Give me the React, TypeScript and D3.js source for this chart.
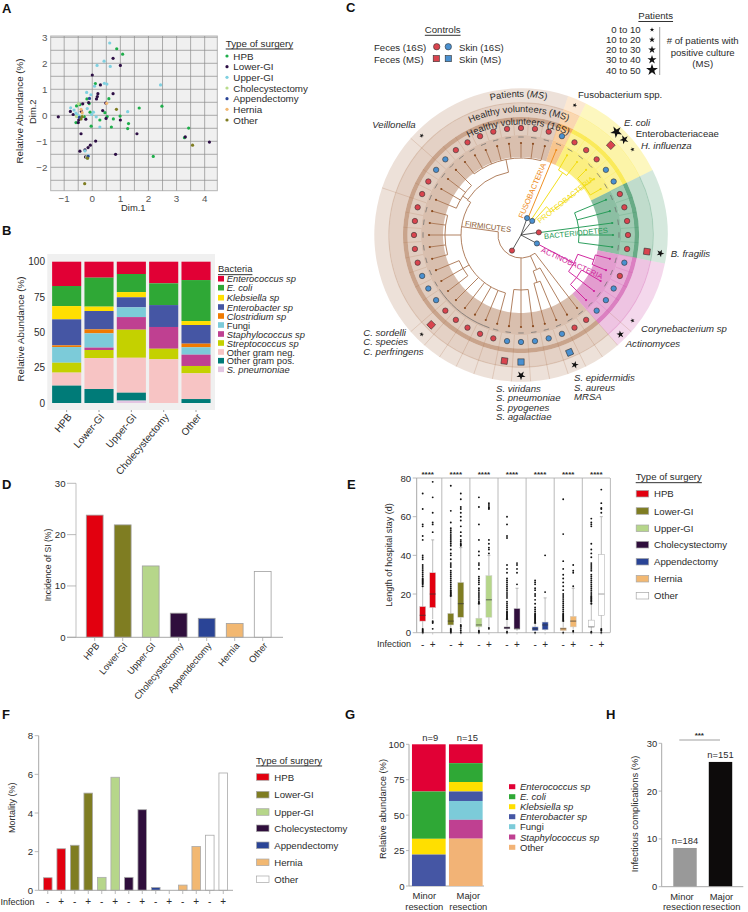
import React from "react";
import * as d3 from "d3";

const FONT = "'Liberation Sans', Arial, sans-serif";
const TXT = "#2b2b2b";
const AXIS = "#a8a8a8";

// ---- shared categories
const surgeryTypes = ["HPB", "Lower-GI", "Upper-GI", "Cholecystectomy", "Appendectomy", "Hernia", "Other"];
const surgeryColors = ["#e2000f", "#7f7d22", "#b6d68a", "#2f0e3c", "#2a4496", "#f2b872", "#ffffff"];

// ---- A: scatter, one [dim1, dim2] list per surgery type
const scatterTypes = ["HPB", "Lower-GI", "Upper-GI", "Cholecystectomy", "Appendectomy", "Hernia", "Other"];
const scatterColors = ["#1fae4b", "#2d0f45", "#7fd0e0", "#b9dc8c", "#2a4496", "#f2b872", "#7f7d22"];
const hpbPoints = [[0.87,2.56],[1.08,2.35],[0.11,1.22],[-0.19,0.63],[0.59,0.64],[-0.11,0.45],[-0.56,0.36],[-0.44,0.41],[1.67,0.28],[2.48,0.35],[-0.08,0.12],[0.45,0.1],[0.53,-0.05],[0.27,-0.18],[0.75,-0.14],[0.99,-0.03],[1.29,-0.32],[1.26,-0.51],[0.68,-0.45],[-0.04,-0.42],[-0.58,-0.28],[3.43,-0.49],[3.28,-0.86],[2.17,-1.58],[-0.29,-0.05],[-0.17,-1.64]];
const lowerPoints = [[0.74,2.19],[1,1.92],[0,1.55],[0.29,1.17],[0.2,0.83],[0.74,0.83],[0.18,0.72],[0.15,0.63],[-0.13,0.49],[0.48,0.47],[-0.34,0.44],[0.37,0.18],[-1.21,-0.06],[-0.78,0.15],[-0.68,0.03],[-0.39,0.15],[-0.48,-0.18],[-0.23,-0.15],[0.49,-0.12],[1,-0.18],[-0.5,-0.28],[-0.4,-0.71],[1.59,-0.71],[3.31,-0.83],[4.17,-1.03],[0.12,-0.99],[-0.07,-1.15],[-0.15,-1.24],[-0.44,-1.38],[-0.26,-1.33],[0.83,-1.5],[-0.24,-1.6]];
const upperPoints = [[0.62,2.78],[0.42,2.08],[0.17,1.92],[0.64,1.88],[0.43,1.23],[0.52,1.2],[0.08,1.12],[2.43,1.17],[-0.2,0.88],[-0.05,0.79],[-0.18,0.26],[0.04,0.12],[-0.77,0.29],[-0.02,0.03],[0.14,-0.06],[1.26,0.14],[0.27,-0.45],[-0.58,0.08],[-0.53,0.01],[-0.46,-0.03],[-0.65,0.2],[-0.26,-1.37],[-0.14,-1.55]];
const cholePoints = [[-0.49,0.44],[-0.56,-0.05],[-0.35,-0.02],[-0.2,-1.6]];
const appendPoints = [[-0.1,0.65],[-0.46,-0.08],[-0.15,-1.58]];
const herniaPoints = [[-0.4,0.23],[0.51,0.46],[-0.36,0.1]];
const otherPoints = [[0.86,0.23],[3.57,-1.15],[-0.27,-2.63],[-0.17,-1.65],[-0.4,-0.14],[-0.36,-0.05]];
const scatterSeries = [hpbPoints, lowerPoints, upperPoints, cholePoints, appendPoints, herniaPoints, otherPoints];
const dimXTicks = [-1, 0, 1, 2, 3, 4];
const dimYTicks = [-2, -1, 0, 1, 2, 3];

// ---- B: stacked bars
const bacteria = ["Enterococcus sp", "E. coli", "Klebsiella sp", "Enterobacter sp", "Clostridium sp", "Fungi", "Staphylococcus sp", "Streptococcus sp", "Other gram neg.", "Other gram pos.", "S. pneumoniae"];
const bacteriaItalic = [true, true, true, true, true, false, true, true, false, false, true];
const bacteriaColors = ["#e10035", "#2fa836", "#ffdf00", "#4556a4", "#f07a00", "#7ccbd9", "#bf4091", "#c4d100", "#f7c4c4", "#007b78", "#e3c6e2"];
const stackGroups = ["HPB", "Lower-GI", "Upper-GI", "Cholecystectomy", "Other"];
const hpbStack = [17.2, 14.2, 9.4, 18.4, 1.2, 11.1, 0, 7, 9.2, 12.3, 0];
const lowerStack = [11.3, 20.5, 3.1, 13, 2.8, 10.1, 1.7, 5.7, 21.9, 9.9, 0];
const upperStack = [8.7, 12.8, 3.7, 7.1, 0, 6.9, 8.9, 19.9, 24.7, 5.6, 1.7];
const choleStack = [15.3, 15.4, 0, 15.5, 0, 0, 15.4, 7.5, 30.9, 0, 0];
const otherStack = [13, 29, 2.8, 13.2, 2.6, 5.2, 8, 5.2, 18.2, 2.8, 0];
const stackValues = [hpbStack, lowerStack, upperStack, choleStack, otherStack];
const abundanceTicks = [0, 25, 50, 75, 100];

// ---- C: circular tree. 48 leaves, numbered clockwise from the top
const leafControls = "RRRBRRRBBRRRRRBRBBBRRBBBBBRRRRRBBBRRRRRRRBBRRRRR".slice(0, 48).split("");
const phyla = ["Firmicutes", "Fusobacteria", "Proteobacteria", "Bacteroidetes", "Actinobacteria"];
const phylumFirstLeaf = [19, 3, 4, 9, 14];
const phylumLastLeaf = [50, 3, 8, 13, 18];
const phylumColors = ["#a5673f", "#f08c1e", "#f8e21a", "#2e8b57", "#c83ca0"];
const phylumLines = ["#ad7a58", "#ee8a1a", "#f2dc10", "#239a55", "#cf1f9b"];
const phylumDotAngle = [210, 19.7, 38.5, 81.6, 118];
const phylumDotColor = ["#d9444e", "#4a90d0", "#4a90d0", "#d9444e", "#4a90d0"];
const firmicutesTree = { r: 23, at: 210, c: [19, { r: 38, c: [20, { r: 50, c: [21, 22] }] }, { r: 55, c: [23, 24, 25] }, { r: 60, at: 278, c: [26, 27, 28, 29, 30, { r: 67, c: [31, 32, 33] }, { r: 76, c: [34, 35, 36, 37, 38] }, { r: 64, at: 303, c: [{ r: 70, c: [39, 40, 41, 42] }, { r: 77, c: [43, 44, 45, 46, 47, 48, 49, 50] }] }] }] };
const fusoTree = { r: 18, at: 19.7, c: [3] };
const proteoTree = { r: 18, at: 38.5, c: [{ r: 75, c: [4, 5] }, { r: 38, at: 42, c: [{ r: 80, c: [6, 7, 8] }] }] };
const bacteroTree = { r: 18, at: 81.6, c: [{ r: 58, c: [9, 10, 11, 12, 13] }] };
const actinoTree = { r: 18, at: 118, c: [{ r: 60, c: [{ r: 77, c: [14, 15] }, { r: 70, c: [16, 17, 18] }] }] };
const phylumTrees = [firmicutesTree, fusoTree, proteoTree, bacteroTree, actinoTree];
const msLeaves = [6, 13, 21, 24, 25, 30];
const msControls = ["R", "R", "B", "B", "R", "R"];
const starLeaves = [3, 5.7, 6.3, 7, 13, 17, 18, 21, 24, 30, 42];
const starLevels = [0, 4, 3, 0, 2, 0, 2, 2, 3, 0, 0];
const starRadii = [2.4, 3.2, 4, 4.8, 6.2];
const patientBins = ["0 to 10", "10 to 20", "20 to 30", "30 to 40", "40 to 50"];
const outerDividers = [18, 19, 20, 21, 22, 23, 24, 25, 26, 27, 28, 29, 30, 31, 39, 42];
const longDashLeaves = [27, 28, 29, 30, 31];

// ---- D: incidence of SI
const incidence = [23.8, 21.9, 13.9, 4.7, 3.7, 2.7, 12.8];

// ---- E: length of stay boxes, infection - then + for each surgery type
const boxLow = [2, 7, 2, 5, 1.5, 3, 1, 1, 0.5, 1, 0, 2, 1, 2];
const boxQ1 = [6, 13, 4, 8, 3, 8, 2, 2, 1, 1.5, 1, 3, 3, 9];
const boxMedian = [9, 20, 6, 15, 4, 17, 2.5, 2, 2, 4, 2, 6, 3, 20];
const boxQ3 = [13.5, 31, 10, 26, 7.5, 29.5, 3, 12.5, 3, 5.5, 2.5, 8.5, 6.5, 40.5];
const boxHigh = [24, 48, 19, 44, 15, 40, 7, 23, 5, 18, 6, 23, 15, 60];
const boxOutliers = [
  [0, 0.5, 1, 1.5, 2, 24, 25, 25.5, 26, 26.5, 27, 27.5, 28, 29, 30, 31, 32, 33, 34, 35, 38, 39, 40, 48, 50, 55, 56, 64, 72],
  [2, 5, 5.5, 6, 52, 56, 57, 62, 70, 78],
  [0, 0.5, 1, 1.5, 2, 19, 19.5, 20, 20.5, 21, 21.5, 22, 23, 24, 25, 26, 27, 28, 29, 30, 31, 32, 34, 35, 36, 38, 40, 41, 43, 45, 46, 47, 48, 49, 50, 51, 52, 53, 54, 57, 63, 76],
  [0, 1, 2, 3, 3.5, 4, 45, 45.5, 46, 47, 48, 50, 52, 55, 58, 60, 62, 64, 65, 69, 72],
  [0, 0.5, 1, 15, 15.5, 16, 17, 18, 19, 20, 21, 22, 23, 25, 26, 27, 28, 29, 33, 35, 36, 40, 42, 48, 56, 65, 70],
  [2, 2.5, 41, 43, 44, 46, 48, 64, 64.5, 65, 66, 67],
  [0, 0.5, 7, 7.5, 8, 8.5, 9, 9.5, 10, 10.5, 11, 12, 13, 14, 15, 16, 18, 19, 20, 21, 22, 23, 24, 25, 26, 27, 28, 31, 33, 35, 49, 50, 56, 60],
  [25, 31, 33, 35, 36],
  [0, 5, 5.5, 6, 6.5, 7, 7.5, 8, 8.5, 9, 9.5, 10, 11, 12, 13, 15, 17, 19, 20, 22, 23, 25, 26, 27],
  [21, 40],
  [0, 6, 6.5, 7, 7.5, 8, 8.5, 9, 9.5, 10, 11, 12, 13, 14, 15, 16, 17, 18, 19, 20, 22, 24, 26, 28, 30, 33, 37, 51, 69],
  [0.5, 1, 24, 31, 32, 35],
  [0, 0.5, 15, 16, 16.5, 17, 17.5, 18, 18.5, 19, 20, 21, 22, 23, 24, 25, 26, 27, 28, 29, 30, 32, 33, 34, 35, 36, 39, 41, 43, 46, 55, 56, 57, 59],
  [0, 1, 1.5, 2, 62, 64, 64.5, 67, 74],
];
const stayTicks = [0, 20, 40, 60, 80];
const siTicks = [0, 10, 20, 30];

// ---- F: mortality
const mortality = [0.65, 2.15, 2.33, 5.03, 0.67, 5.85, 0.67, 4.17, 0.15, 0, 0.27, 2.27, 2.85, 6.07];
const mortalityTicks = [0, 2, 4, 6, 8];

// ---- G: resection stacks
const resectionGroups = ["Minor", "Major"];
const resectionCounts = ["n=9", "n=15"];
const resectionBacteria = ["Enterococcus sp", "E. coli", "Klebsiella sp", "Enterobacter sp", "Fungi", "Staphylococcus sp", "Other"];
const resectionItalic = [true, true, true, true, false, true, false];
const resectionColors = ["#e10035", "#2fa836", "#ffdf00", "#4556a4", "#7ccbd9", "#bf4091", "#f2b376"];
const minorStack = [33.3, 33.4, 11.1, 22.2, 0, 0, 0];
const majorStack = [13.3, 13.3, 6.7, 6.7, 13.3, 13.3, 33.4];

// ---- H: infectious complications
const complications = [8.1, 26.1];
const complicationCounts = ["n=184", "n=151"];
const complicationColors = ["#999999", "#0d0b0b"];
const complicationTicks = [0, 10, 20, 30];

const Label = ({ x, y, size = 9.6, anchor = "start", italic = false, bold = false, fill = TXT, rotate = 0, underline = false, children }: any) => (
  <text
    transform={`translate(${x} ${y})${rotate ? ` rotate(${rotate})` : ""}`}
    textAnchor={anchor}
    dominantBaseline="central"
    fontSize={size}
    fontStyle={italic ? "italic" : "normal"}
    fontWeight={bold ? "bold" : "normal"}
    fill={fill}
    textDecoration={underline ? "underline" : "none"}
  >
    {children}
  </text>
);

const Letter = ({ x, y, children }: any) => (
  <text x={x} y={y} fontSize={13} fontWeight="bold" fill="#111">{children}</text>
);

// left axis with the prism style grey line
const LeftAxis = ({ scale, ticks, x, size = 9.6, fill = TXT, tick = 4, lineColor = AXIS, lineWidth = 1 }: any) => (
  <g>
    <line x1={x} x2={x} y1={scale.range()[0]} y2={scale.range()[1]} stroke={lineColor} strokeWidth={lineWidth} />
    {ticks.map((t: number) => (
      <g key={t}>
        <line x1={x - tick} x2={x} y1={scale(t)} y2={scale(t)} stroke={AXIS} strokeWidth={0.8} />
        <Label x={x - tick - 1.5} y={scale(t)} anchor="end" size={size} fill={fill}>{t}</Label>
      </g>
    ))}
  </g>
);

const SurgeryLegend = ({ x, titleY, rows }: any) => (
  <g>
    <Label x={x} y={titleY} underline size={9.6}>Type of surgery</Label>
    {surgeryTypes.map((s, i) => (
      <g key={s}>
        <rect x={x + 0.5} y={rows[i] - 3.3} width={12.5} height={6.6} fill={surgeryColors[i]} stroke="#a8a8a8" strokeWidth={0.7} />
        <Label x={x + 18.3} y={rows[i]} size={9.6}>{s}</Label>
      </g>
    ))}
  </g>
);

const PanelA = () => {
  const x = d3.scaleLinear().domain([-1.48, 4.45]).range([50.7, 217.3]);
  const y = d3.scaleLinear().domain([-2.9, 3.05]).range([190.7, 36]);
  const gridX = d3.range(-1, 4.01, 0.5);
  const gridY = d3.range(-2.5, 3.01, 0.5);
  const rows = [56, 66.7, 77.3, 88, 98.7, 109.3, 120];
  return (
    <g>
      <Letter x={2} y={12.5}>A</Letter>
      <rect x={50.7} y={36} width={166.6} height={154.7} fill="#f0f0f0" stroke="#b5b5b5" strokeWidth={1} />
      {gridX.map(g => <line key={g} x1={x(g)} x2={x(g)} y1={36} y2={190.7} stroke="#8c8c8c" strokeWidth={0.7} />)}
      {gridY.map(g => <line key={g} x1={50.7} x2={217.3} y1={y(g)} y2={y(g)} stroke="#8c8c8c" strokeWidth={0.7} />)}
      {scatterSeries.map((pts, i) =>
        pts.map((p, j) => <circle key={`${i}-${j}`} cx={x(p[0])} cy={y(p[1])} r={1.6} fill={scatterColors[i]} />)
      )}
      {dimXTicks.map(t => <Label key={t} x={x(t)} y={198} anchor="middle" size={9.8} fill="#555">{t === 0 ? "0" : d3.format("d")(t).replace("-", "−")}</Label>)}
      {dimYTicks.map(t => <Label key={t} x={47.5} y={y(t)} anchor="end" size={9.8} fill="#555">{d3.format("d")(t).replace("-", "−")}</Label>)}
      <Label x={133.3} y={207.5} anchor="middle" size={9.4}>Dim.1</Label>
      <Label x={32.7} y={111.7} anchor="middle" size={9.4} rotate={-90}>Dim.2</Label>
      <Label x={19.3} y={111} anchor="middle" size={9.8} rotate={-90}>Relative Abundance (%)</Label>
      <Label x={225.7} y={43} size={9.8} underline>Type of surgery</Label>
      {scatterTypes.map((s, i) => (
        <g key={s}>
          <circle cx={227} cy={rows[i]} r={1.6} fill={scatterColors[i]} />
          <Label x={233.3} y={rows[i]} size={9.8}>{s}</Label>
        </g>
      ))}
    </g>
  );
};

const PanelB = () => {
  const x = d3.scaleBand().domain(stackGroups).range([50.5, 212.2]).paddingInner(0.1).paddingOuter(0.05);
  const y = d3.scaleLinear().domain([0, 100]).range([403, 261.7]);
  const rows = [278.7, 287.7, 297.7, 307, 316, 325, 334, 343, 352, 360.7, 369.3];
  return (
    <g>
      <Letter x={2} y={235}>B</Letter>
      <rect x={47.3} y={254} width={167.7} height={156} fill="#f0f0f0" />
      {stackGroups.map((g, i) => {
        let top = 100;
        return (
          <g key={g}>
            {stackValues[i].map((v, j) => {
              const y0 = top;
              top -= v;
              return v > 0 ? <rect key={j} x={x(g)} y={y(y0)} width={x.bandwidth()} height={y(y0 - v) - y(y0)} fill={bacteriaColors[j]} /> : null;
            })}
            <line x1={x(g)! + x.bandwidth() / 2} x2={x(g)! + x.bandwidth() / 2} y1={410} y2={412} stroke="#777" strokeWidth={0.7} />
            <Label x={x(g)! + x.bandwidth() / 2 + 3} y={415} anchor="end" size={10} rotate={-50}>{g}</Label>
          </g>
        );
      })}
      {abundanceTicks.map(t => <Label key={t} x={45} y={y(t)} anchor="end" size={10}>{t}</Label>)}
      <Label x={20.7} y={329} anchor="middle" size={9.8} rotate={-90}>Relative Abundance (%)</Label>
      <Label x={218} y={268.7} size={9.4} underline>Bacteria</Label>
      {bacteria.map((b, i) => (
        <g key={b}>
          <rect x={218} y={rows[i] - 2.8} width={6} height={5.6} fill={bacteriaColors[i]} />
          <Label x={226.7} y={rows[i]} size={9.4} italic={bacteriaItalic[i]}>{b}</Label>
        </g>
      ))}
    </g>
  );
};

const CX = 521;
const CY = 235;
const rad = (a: number) => (a * Math.PI) / 180;
const leafAngle = d3.scaleLinear().domain([0, 48]).range([0, 360]);
const polar = (a: number, r: number): [number, number] => [CX + r * Math.sin(rad(a)), CY - r * Math.cos(rad(a))];
const TIP_R = 92;

const angleOf = (n: any): number =>
  typeof n === "number" ? leafAngle(n) : n.at ?? (angleOf(n.c[0]) + angleOf(n.c[n.c.length - 1])) / 2;

// walks a clade, arc at the clade radius and one radial link per child
const drawClade = (node: any, p: any) => {
  const angles = node.c.map(angleOf).concat(angleOf(node));
  const a0 = d3.min(angles) as number;
  const a1 = d3.max(angles) as number;
  p.moveTo(...polar(a0, node.r));
  p.arc(CX, CY, node.r, rad(a0) - Math.PI / 2, rad(a1) - Math.PI / 2);
  node.c.forEach((c: any) => {
    const a = angleOf(c);
    p.moveTo(...polar(a, node.r));
    p.lineTo(...polar(a, typeof c === "number" ? TIP_R : c.r));
    if (typeof c !== "number") drawClade(c, p);
  });
};

const starPath = (level: number) => {
  const R = starRadii[level];
  return d3.symbol().type(d3.symbolStar).size((R * R) / 0.8908)()!;
};

// rings from the inside out: tree tips, leaf dots, dark rim, MS squares, thin line, stars
const bands = [
  { inner: 78, outer: 100, alpha: [0.42, 0.5, 0.55, 0.55, 0.5] },
  { inner: 100, outer: 113.5, alpha: [0.33, 0.42, 0.45, 0.45, 0.42] },
  { inner: 113.5, outer: 118, alpha: [0.6, 0.7, 0.72, 0.72, 0.65] },
  { inner: 118, outer: 131.5, alpha: [0.3, 0.35, 0.38, 0.3, 0.3] },
  { inner: 131.5, outer: 132.7, alpha: [0.42, 0.42, 0.45, 0.42, 0.42] },
  { inner: 132.7, outer: 146.7, alpha: [0.2, 0.2, 0.28, 0.2, 0.2] },
];

const PanelC = () => {
  const ring = d3.arc<any>();
  const labelArc = (id: string, r: number, mid: number) => {
    const p = d3.path();
    p.moveTo(...polar(mid - 80, r));
    p.arc(CX, CY, r, rad(mid - 80) - Math.PI / 2, rad(mid + 80) - Math.PI / 2);
    return <path id={id} d={p.toString()} fill="none" />;
  };
  return (
    <g>
      <Letter x={346} y={12}>C</Letter>

      {/* controls legend */}
      <Label x={442.7} y={29.3} anchor="middle" underline>Controls</Label>
      <Label x={374} y={47}>Feces (16S)</Label>
      <Label x={374} y={59}>Feces (MS)</Label>
      <circle cx={436.7} cy={46.7} r={3.2} fill="#d9444e" stroke="#333" strokeWidth={0.6} />
      <circle cx={448.3} cy={46.7} r={3.2} fill="#4a90d0" stroke="#333" strokeWidth={0.6} />
      <rect x={433.2} y={55.5} width={6.2} height={6.2} fill="#d9444e" stroke="#333" strokeWidth={0.6} />
      <rect x={445.2} y={55.5} width={6.2} height={6.2} fill="#4a90d0" stroke="#333" strokeWidth={0.6} />
      <Label x={459} y={47.3}>Skin (16S)</Label>
      <Label x={459} y={59.3}>Skin (MS)</Label>

      {/* patients legend */}
      <Label x={655.7} y={15.5} anchor="middle" underline>Patients</Label>
      {patientBins.map((b, i) => {
        const yy = [29.7, 39.7, 49.7, 59.7, 70][i];
        return (
          <g key={b}>
            <Label x={640.7} y={yy} anchor="end">{b}</Label>
            <path d={starPath(i)} transform={`translate(652 ${yy})`} fill="#111" />
          </g>
        );
      })}
      <line x1={659.7} x2={659.7} y1={27} y2={75} stroke="#777" strokeWidth={0.7} />
      <Label x={702.7} y={40.7} anchor="middle"># of patients with</Label>
      <Label x={702.7} y={52} anchor="middle">positive culture</Label>
      <Label x={702.7} y={63.3} anchor="middle">(MS)</Label>

      {/* coloured rings */}
      {phyla.map((ph, i) =>
        bands.map((b, j) => (
          <path
            key={`${ph}-${j}`}
            transform={`translate(${CX} ${CY})`}
            d={ring({ innerRadius: b.inner, outerRadius: b.outer, startAngle: rad(leafAngle(phylumFirstLeaf[i] - 0.5)), endAngle: rad(leafAngle(phylumLastLeaf[i] + 0.5)) })!}
            fill={phylumColors[i]}
            fillOpacity={b.alpha[i]}
          />
        ))
      )}

      {/* slice lines inside the rings */}
      {d3.range(48).map(k => {
        const a = leafAngle(k - 0.5);
        const idx = phyla.findIndex((_, i) => {
          const kk = k < 3 ? k + 48 : k;
          return kk >= phylumFirstLeaf[i] && kk <= phylumLastLeaf[i];
        });
        const [x1, y1] = polar(a, 100);
        const [x2, y2] = polar(a, 118);
        return <line key={k} x1={x1} y1={y1} x2={x2} y2={y2} stroke={phylumColors[idx]} strokeOpacity={0.3} strokeWidth={0.6} />;
      })}
      {outerDividers.map(k => {
        const a = leafAngle(k - 0.5);
        const [x1, y1] = polar(a, 118);
        const [x2, y2] = polar(a, 146.7);
        return <line key={k} x1={x1} y1={y1} x2={x2} y2={y2} stroke="#a5673f" strokeOpacity={0.3} strokeWidth={0.7} />;
      })}

      {/* dashes between tips and dots */}
      {d3.range(48).map(k => {
        const half = longDashLeaves.includes(k) ? 3.75 : 1.6;
        const p = d3.path();
        p.moveTo(...polar(leafAngle(k) - half, 98));
        p.arc(CX, CY, 98, rad(leafAngle(k) - half) - Math.PI / 2, rad(leafAngle(k) + half) - Math.PI / 2);
        return <path key={k} d={p.toString()} fill="none" stroke="#666" strokeWidth={0.7} />;
      })}

      {/* tree */}
      {phylumTrees.map((t, i) => {
        const p = d3.path();
        drawClade(t, p);
        return <path key={phyla[i]} d={p.toString()} fill="none" stroke={phylumLines[i]} strokeWidth={0.95} />;
      })}
      {d3.range(48).map(k => {
        const kk = k < 3 ? k + 48 : k;
        const idx = phyla.findIndex((_, i) => kk >= phylumFirstLeaf[i] && kk <= phylumLastLeaf[i]);
        const [x, y] = polar(leafAngle(k), TIP_R);
        return <circle key={k} cx={x} cy={y} r={1.1} fill={idx === 0 ? "#8a4a1e" : phylumLines[idx]} />;
      })}
      {phyla.map((ph, i) => {
        const [x, y] = polar(phylumDotAngle[i], 18);
        return (
          <g key={ph}>
            <line x1={CX} y1={CY} x2={x} y2={y} stroke="#333" strokeWidth={0.8} />
            <circle cx={x} cy={y} r={2.6} fill={phylumDotColor[i]} stroke="#333" strokeWidth={0.6} />
          </g>
        );
      })}

      {/* leaf marks */}
      {leafControls.map((c, k) => {
        const [x, y] = polar(leafAngle(k), 107);
        return <circle key={k} cx={x} cy={y} r={2.7} fill={c === "R" ? "#d9444e" : "#4a90d0"} stroke="#333" strokeWidth={0.6} />;
      })}
      {msLeaves.map((k, i) => {
        const [x, y] = polar(leafAngle(k), 127);
        return <rect key={k} x={-3.1} y={-3.1} width={6.2} height={6.2} transform={`translate(${x} ${y}) rotate(${leafAngle(k)})`} fill={msControls[i] === "R" ? "#d9444e" : "#4a90d0"} stroke="#333" strokeWidth={0.6} />;
      })}
      {starLeaves.map((k, i) => {
        const [x, y] = polar(leafAngle(k), 140.5);
        return <path key={k} d={starPath(starLevels[i])} transform={`translate(${x} ${y}) rotate(${leafAngle(k)})`} fill="#111" />;
      })}

      {/* ring titles */}
      {labelArc("ringPatients", 138, -1)}
      {labelArc("ringMs", 123, -1)}
      {labelArc("ring16s", 110.5, -1.5)}
      <text fontSize={9.4} fill={TXT}><textPath href="#ringPatients" startOffset="50%" textAnchor="middle">Patients (<tspan fontStyle="italic">MS</tspan>)</textPath></text>
      <text fontSize={9.4} fill={TXT}><textPath href="#ringMs" startOffset="50%" textAnchor="middle">Healthy volunteers (MS)</textPath></text>
      <text fontSize={9.4} fill={TXT}><textPath href="#ring16s" startOffset="50%" textAnchor="middle">Healthy volunteers (16S)</textPath></text>

      {/* phylum names */}
      <Label x={532.3} y={190.7} anchor="middle" size={7.6} rotate={-67} fill="#ee8a1a">FUSOBACTERIA</Label>
      <Label x={565.7} y={200} anchor="middle" size={7.6} rotate={-38.6} fill="#f2dc10">PROTEOBACTERIA</Label>
      <Label x={576} y={233.3} anchor="middle" size={7.6} rotate={-5.6} fill="#239a55">BACTERIODETES</Label>
      <Label x={572} y={263.3} anchor="middle" size={7.6} rotate={24.4} fill="#cf1f9b">ACTINOBACTERIA</Label>
      <Label x={488} y={226.7} anchor="middle" size={7.6} rotate={7.7} fill="#8a5a32">FIRMICUTES</Label>

      {/* species names */}
      <Label x={578} y={94.3}>Fusobacterium spp.</Label>
      <Label x={624} y={122.3} italic>E. coli</Label>
      <Label x={635.7} y={133.7}>Enterobacteriaceae</Label>
      <Label x={641} y={145.3} italic>H. influenza</Label>
      <Label x={372.3} y={124.3} italic>Veillonella</Label>
      <Label x={670.7} y={253.7} italic>B. fragilis</Label>
      <Label x={641} y={328.3} italic>Corynebacterium sp</Label>
      <Label x={625.7} y={343.7} italic>Actinomyces</Label>
      <Label x={574} y={377.7} italic>S. epidermidis</Label>
      <Label x={574} y={387} italic>S. aureus</Label>
      <Label x={574} y={396.3} italic>MRSA</Label>
      <Label x={496} y={388} italic>S. viridans</Label>
      <Label x={496} y={397.7} italic>S. pneumoniae</Label>
      <Label x={496} y={407} italic>S. pyogenes</Label>
      <Label x={496} y={416.3} italic>S. agalactiae</Label>
      <Label x={363.3} y={332} italic>C. sordelli</Label>
      <Label x={363.3} y={341.7} italic>C. species</Label>
      <Label x={363.3} y={351} italic>C. perfringens</Label>
    </g>
  );
};

const PanelD = () => {
  const x = d3.scaleBand().domain(surgeryTypes).range([80.7, 276.7]).paddingInner(0.4).paddingOuter(0.2);
  const y = d3.scaleLinear().domain([0, 30]).range([637.3, 483.3]);
  return (
    <g>
      <Letter x={2} y={489}>D</Letter>
      {surgeryTypes.map((s, i) => (
        <rect key={s} x={x(s)} y={y(incidence[i])} width={x.bandwidth()} height={y(0) - y(incidence[i])} fill={surgeryColors[i]} stroke="#a0a0a0" strokeWidth={0.8} />
      ))}
      <LeftAxis scale={y} ticks={siTicks} x={76} tick={9} lineColor="#d6d6d6" lineWidth={1.5} />
      <line x1={67} x2={283} y1={y(0)} y2={y(0)} stroke={AXIS} strokeWidth={1} />
      {surgeryTypes.map(s => {
        const cx = x(s)! + x.bandwidth() / 2;
        return (
          <g key={s}>
            <line x1={cx} x2={cx} y1={637.3} y2={641} stroke={AXIS} strokeWidth={0.8} />
            <Label x={cx + 3} y={644} anchor="end" size={9.3} rotate={-50}>{s}</Label>
          </g>
        );
      })}
      <Label x={47.7} y={565} anchor="middle" size={8.6} rotate={-90}>Incidence of SI (%)</Label>
    </g>
  );
};

const PanelE = () => {
  const groups = d3.scalePoint().domain(surgeryTypes).range([427.7, 596.3]);
  const y = d3.scaleLinear().domain([0, 80]).range([632.7, 478]);
  const boxX = (i: number) => groups(surgeryTypes[Math.floor(i / 2)])! + (i % 2 === 0 ? -5 : 5);
  return (
    <g>
      <Letter x={347} y={489}>E</Letter>
      <LeftAxis scale={y} ticks={stayTicks} x={416.7} />
      <line x1={416.7} x2={610} y1={478} y2={478} stroke={AXIS} strokeWidth={0.8} />
      <line x1={416.7} x2={610} y1={632.7} y2={632.7} stroke={AXIS} strokeWidth={0.8} />
      {surgeryTypes.map(s => {
        const edge = groups(s)! + 14.1;
        return (
          <g key={s}>
            <line x1={edge} x2={edge} y1={478} y2={632.7} stroke={AXIS} strokeWidth={0.8} />
            <text x={groups(s)} y={477} textAnchor="middle" fontSize={8} fontWeight="bold" fill={TXT}>****</text>
          </g>
        );
      })}
      {boxMedian.map((m, i) => {
        const cx = boxX(i);
        const color = surgeryColors[Math.floor(i / 2)];
        return (
          <g key={i}>
            <line x1={cx} x2={cx} y1={y(boxLow[i])} y2={y(boxHigh[i])} stroke="#b5b5b5" strokeWidth={0.9} />
            <line x1={cx - 1.5} x2={cx + 1.5} y1={y(boxHigh[i])} y2={y(boxHigh[i])} stroke="#999" strokeWidth={0.7} />
            <rect x={cx - 3} y={y(boxQ3[i])} width={6} height={y(boxQ1[i]) - y(boxQ3[i])} fill={color} stroke={color === "#ffffff" ? "#aaa" : "#cfcfcf"} strokeWidth={0.5} />
            <line x1={cx - 3} x2={cx + 3} y1={y(m)} y2={y(m)} stroke={color === "#ffffff" ? "#777" : "#333"} strokeWidth={0.7} />
            {boxOutliers[i].map((o, j) => <circle key={j} cx={cx} cy={y(o)} r={0.95} fill="#111" />)}
            <Label x={cx} y={644} anchor="middle" size={10}>{i % 2 === 0 ? "-" : "+"}</Label>
            <line x1={cx} x2={cx} y1={632.7} y2={634.5} stroke={AXIS} strokeWidth={0.6} />
          </g>
        );
      })}
      <Label x={411} y={644} anchor="end" size={9}>Infection</Label>
      <Label x={389} y={555} anchor="middle" size={9} rotate={-90}>Length of hospital stay (d)</Label>
      <SurgeryLegend x={635.7} titleY={476.7} rows={[493.7, 511, 528.3, 544.7, 561.7, 578.7, 595.7]} />
    </g>
  );
};

const PanelF = () => {
  const x = d3.scaleBand<number>().domain(d3.range(14)).range([41, 230]).paddingInner(0.36).paddingOuter(0.18);
  const y = d3.scaleLinear().domain([0, 8]).range([890.3, 735.7]);
  return (
    <g>
      <Letter x={2} y={719}>F</Letter>
      {mortality.map((m, i) => {
        const color = surgeryColors[Math.floor(i / 2)];
        return (
          <g key={i}>
            {m > 0 && <rect x={x(i)} y={y(m)} width={x.bandwidth()} height={y(0) - y(m)} fill={color} stroke="#aaa" strokeWidth={0.8} />}
            <line x1={x(i)! + x.bandwidth() / 2} x2={x(i)! + x.bandwidth() / 2} y1={890.3} y2={894} stroke={AXIS} strokeWidth={0.8} />
            <Label x={x(i)! + x.bandwidth() / 2} y={901.7} anchor="middle" size={10}>{i % 2 === 0 ? "-" : "+"}</Label>
          </g>
        );
      })}
      <LeftAxis scale={y} ticks={mortalityTicks} x={38.7} />
      <line x1={38.7} x2={233} y1={890.3} y2={890.3} stroke={AXIS} strokeWidth={1} />
      <Label x={34.5} y={902} anchor="end" size={9}>Infection</Label>
      <Label x={12.3} y={807.7} anchor="middle" size={9} rotate={-90}>Mortality (%)</Label>
      <SurgeryLegend x={256} titleY={760} rows={[777, 794.7, 812, 828.3, 845.3, 862.3, 879.3]} />
    </g>
  );
};

const PanelG = () => {
  const x = d3.scaleBand().domain(resectionGroups).range([410.3, 484.3]).paddingInner(0.09).paddingOuter(0.045);
  const y = d3.scaleLinear().domain([0, 100]).range([886, 744.3]);
  const rows = [786.7, 796.7, 806.7, 816.7, 826.7, 837, 847.3];
  const labelX = [424.3, 468.3];
  return (
    <g>
      <Letter x={345} y={719}>G</Letter>
      <LeftAxis scale={y} ticks={abundanceTicks} x={409} size={9.6} tick={3} />
      <line x1={409} x2={484} y1={886} y2={886} stroke={AXIS} strokeWidth={1} />
      {resectionGroups.map((g, i) => {
        const values = i === 0 ? minorStack : majorStack;
        const cx = x(g)! + x.bandwidth() / 2;
        let top = 100;
        return (
          <g key={g}>
            {values.map((v, j) => {
              const y0 = top;
              top -= v;
              return v > 0 ? <rect key={j} x={x(g)} y={y(y0)} width={x.bandwidth()} height={y(y0 - v) - y(y0)} fill={resectionColors[j]} /> : null;
            })}
            <Label x={cx + 1.5} y={737.7} anchor="middle" size={9.4}>{resectionCounts[i]}</Label>
            <Label x={labelX[i]} y={895} anchor="middle" size={9.4}>{g}</Label>
            <Label x={labelX[i]} y={906} anchor="middle" size={9.4}>resection</Label>
          </g>
        );
      })}
      <Label x={382.3} y={809} anchor="middle" size={9.4} rotate={-90}>Relative abundance (%)</Label>
      {resectionBacteria.map((b, i) => (
        <g key={b}>
          <rect x={509} y={rows[i] - 2.5} width={6.3} height={5} fill={resectionColors[i]} />
          <Label x={520} y={rows[i]} size={9.5} italic={resectionItalic[i]}>{b}</Label>
        </g>
      ))}
    </g>
  );
};

const PanelH = () => {
  const x = d3.scaleBand().domain(resectionGroups).range([667.25, 738.25]).paddingInner(0.34).paddingOuter(0.17);
  const y = d3.scaleLinear().domain([0, 30]).range([886.7, 743.3]);
  return (
    <g>
      <Letter x={606} y={719}>H</Letter>
      {resectionGroups.map((g, i) => {
        const cx = x(g)! + x.bandwidth() / 2;
        return (
          <g key={g}>
            <rect x={x(g)} y={y(complications[i])} width={x.bandwidth()} height={y(0) - y(complications[i])} fill={complicationColors[i]} />
            <Label x={cx} y={y(complications[i]) - 7} anchor="middle" size={9.4}>{complicationCounts[i]}</Label>
            <Label x={cx - 3 + i * 4} y={896.5} anchor="middle" size={9.4}>{g}</Label>
            <Label x={cx - 3 + i * 4} y={906.5} anchor="middle" size={9.4}>resection</Label>
          </g>
        );
      })}
      <LeftAxis scale={y} ticks={complicationTicks} x={661.7} size={9.4} tick={3} />
      <line x1={661.7} x2={743.3} y1={886.7} y2={886.7} stroke={AXIS} strokeWidth={1} />
      <line x1={679.3} x2={720} y1={740} y2={740} stroke="#888" strokeWidth={0.8} />
      <text x={699.3} y={738} textAnchor="middle" fontSize={8} fontWeight="bold" fill={TXT}>***</text>
      <Label x={634} y={814} anchor="middle" size={9.4} rotate={-90}>Infectious complications (%)</Label>
    </g>
  );
};

export default function App() {
  return (
    <svg width={748} height={912} style={{ position: "absolute", left: 0, top: 0, display: "block", fontFamily: FONT, background: "#fff" }}>
      <PanelA />
      <PanelB />
      <PanelC />
      <PanelD />
      <PanelE />
      <PanelF />
      <PanelG />
      <PanelH />
    </svg>
  );
}
